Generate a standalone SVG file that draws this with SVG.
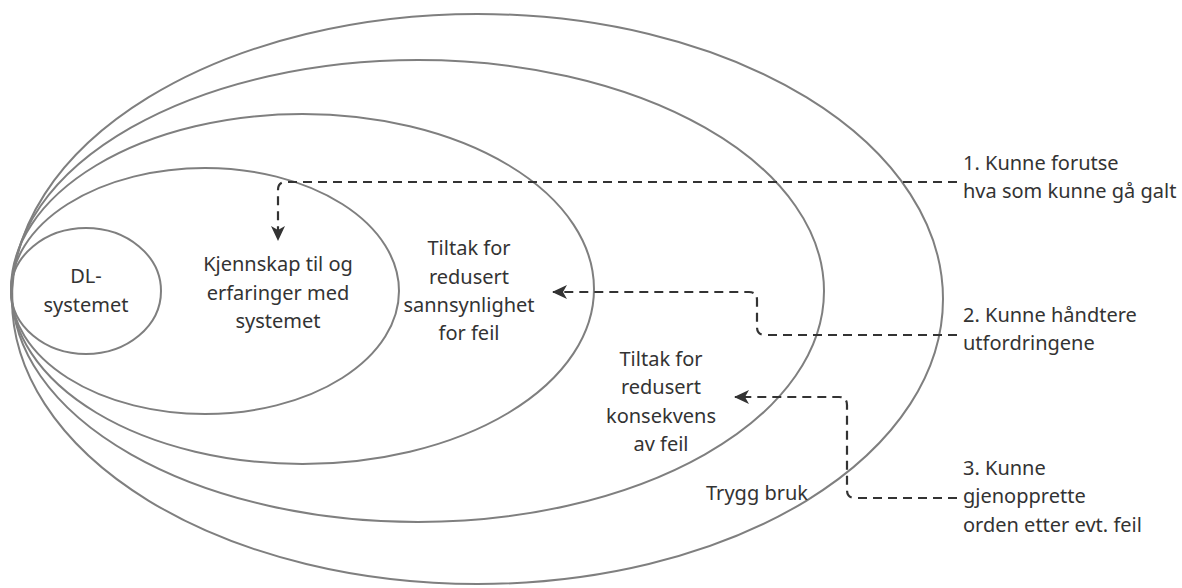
<svg xmlns="http://www.w3.org/2000/svg" width="1182" height="588" viewBox="0 0 1182 588">
  <style>
    .ring { fill: none; stroke: #7f7f7f; stroke-width: 2; }
    .label { font-family: "Noto Sans", "Open Sans", "Liberation Sans", sans-serif; font-size: 20px; fill: #333333; }
    .mid { text-anchor: middle; }
    .link { fill: none; stroke: #333333; stroke-width: 2.2; stroke-dasharray: 9 6; }
  </style>
  <defs>
    <marker id="arrow" viewBox="0 0 16 16" refX="14" refY="8" markerWidth="16" markerHeight="16" markerUnits="userSpaceOnUse" orient="auto">
      <path d="M0 1 L15 8 L0 15 L4 8 Z" fill="#333333"/>
    </marker>
  </defs>

  <rect width="1182" height="588" fill="#ffffff"/>

  <g id="trygg-bruk">
    <ellipse class="ring" cx="477.5" cy="299" rx="465.5" ry="285"/>
    <text class="label mid" x="757" y="500">Trygg bruk</text>
  </g>

  <g id="redusert-konsekvens">
    <ellipse class="ring" cx="418" cy="291" rx="406" ry="231"/>
    <text class="label mid" x="661" y="366">Tiltak for</text>
    <text class="label mid" x="661" y="394">redusert</text>
    <text class="label mid" x="661" y="423">konsekvens</text>
    <text class="label mid" x="661" y="451">av feil</text>
  </g>

  <g id="redusert-sannsynlighet">
    <ellipse class="ring" cx="302.5" cy="289" rx="291.5" ry="175"/>
    <text class="label mid" x="469" y="255">Tiltak for</text>
    <text class="label mid" x="469" y="284">redusert</text>
    <text class="label mid" x="469" y="312">sannsynlighet</text>
    <text class="label mid" x="469" y="340">for feil</text>
  </g>

  <g id="kjennskap">
    <ellipse class="ring" cx="205" cy="291" rx="194" ry="123"/>
    <text class="label mid" x="278" y="271">Kjennskap til og</text>
    <text class="label mid" x="278" y="300">erfaringer med</text>
    <text class="label mid" x="278" y="328">systemet</text>
  </g>

  <g id="dl-systemet">
    <ellipse class="ring" cx="86" cy="291" rx="75" ry="63"/>
    <text class="label mid" x="86" y="283">DL-</text>
    <text class="label mid" x="86" y="312">systemet</text>
  </g>

  <g id="forutse">
    <text class="label" x="963" y="170">1. Kunne forutse</text>
    <text class="label" x="963" y="198">hva som kunne gå galt</text>
  </g>

  <g id="haandtere">
    <text class="label" x="963" y="322">2. Kunne håndtere</text>
    <text class="label" x="963" y="350">utfordringene</text>
  </g>

  <g id="gjenopprette">
    <text class="label" x="963" y="475">3. Kunne</text>
    <text class="label" x="963" y="503">gjenopprette</text>
    <text class="label" x="963" y="532">orden etter evt. feil</text>
  </g>

  <g id="connectors">
    <path class="link" d="M957 182 H286 Q278 182 278 190 V240" marker-end="url(#arrow)"/>
    <path class="link" d="M957 335 H765 Q757 335 757 327 V300 Q757 292 749 292 H553" marker-end="url(#arrow)"/>
    <path class="link" d="M957 498 H855 Q847 498 847 490 V405 Q847 397 839 397 H735" marker-end="url(#arrow)"/>
  </g>
</svg>
